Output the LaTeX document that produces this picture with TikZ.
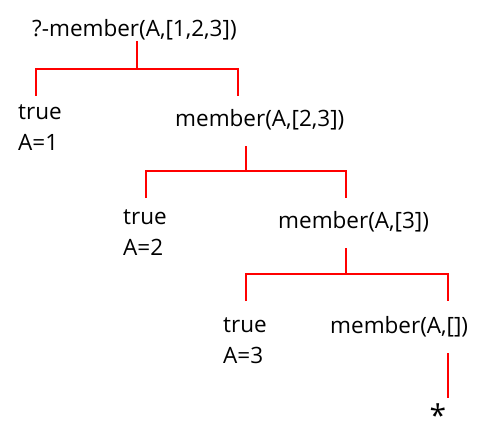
\documentclass[tikz,border=0pt]{standalone}
\usepackage{fontspec}
\setmainfont{Open Sans}

\begin{document}
\begin{tikzpicture}[x=1pt,y=-1pt]
\tikzstyle{edge}=[draw=red,line width=1.8pt]
\tikzstyle{goal}=[anchor=base west,inner sep=0pt,font=\fontsize{22.5}{31}\selectfont]
\tikzstyle{answer}=[goal,align=left]
\useasboundingbox (0,0) rectangle (500,433);
\node[goal](root) at (32,37) {?-member(A,[1,2,3])};
\node[answer](t1) at (18,150) {true\\A=1};
\node[goal](m1) at (175,127) {member(A,[2,3])};
\node[answer](t2) at (123,255) {true\\A=2};
\node[goal](m2) at (278,228) {member(A,[3])};
\node[answer](t3) at (223,363) {true\\A=3};
\node[goal](m3) at (330,333) {member(A,[])};
\node[goal,font=\fontsize{30}{30}\selectfont](stop) at (429.5,426) {*};
% forks
\coordinate (f1) at (137,69);
\coordinate (l1) at (36,96);
\coordinate (r1) at (238,96);
\draw[edge] (root.south -| f1) -- (f1);
\draw[edge] (l1) |- (f1) -| (r1);
\coordinate (m1b) at (246,146);
\coordinate (f2) at (246,171);
\coordinate (l2) at (146,198);
\coordinate (r2) at (346,198);
\draw[edge] (m1b) -- (f2);
\draw[edge] (l2) |- (f2) -| (r2);
\coordinate (m2b) at (346,248);
\coordinate (f3) at (346,274);
\coordinate (l3) at (246,301);
\coordinate (r3) at (448,301);
\draw[edge] (m2b) -- (f3);
\draw[edge] (l3) |- (f3) -| (r3);
\coordinate (m3b) at (448,353);
\coordinate (m3e) at (448,398);
\draw[edge] (m3b) -- (m3e);
\end{tikzpicture}
\end{document}
